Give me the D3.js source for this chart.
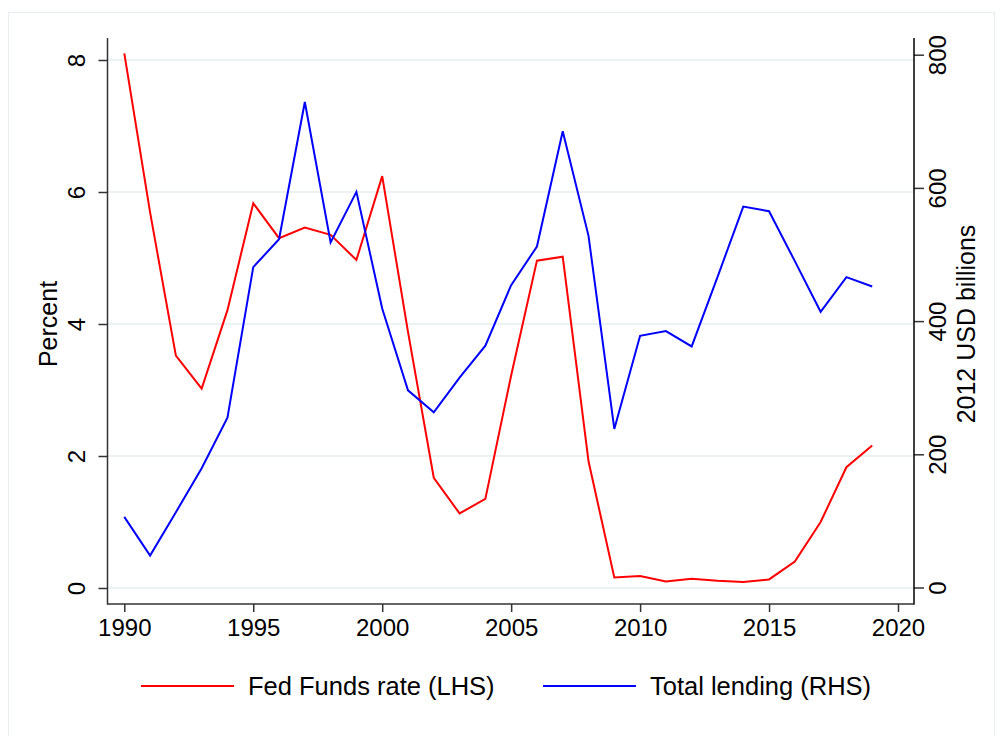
<!DOCTYPE html>
<html>
<head>
<meta charset="utf-8">
<script src="https://cdn.jsdelivr.net/npm/d3@7"></script>
<style>
  body { margin: 0; background: #fff; }
  svg { display: block; font-family: "Liberation Sans", Arial, sans-serif; }
</style>
</head>
<body>
<svg id="chart" width="1003" height="736"></svg>
<script>
const years = d3.range(1990, 2020);
const fedFunds = [8.10, 5.69, 3.52, 3.02, 4.21, 5.83, 5.30, 5.46, 5.35, 4.97,
  6.24, 3.88, 1.67, 1.13, 1.35, 3.22, 4.96, 5.02, 1.92, 0.16,
  0.18, 0.10, 0.14, 0.11, 0.09, 0.13, 0.40, 1.00, 1.83, 2.16];
const lending = [106, 48, 113, 179, 255, 481, 523, 729, 518, 594,
  419, 296, 263, 315, 363, 454, 512, 685, 528, 238,
  378, 385, 362, 466, 572, 565, 490, 414, 466, 452];
const xTicks = [1990, 1995, 2000, 2005, 2010, 2015, 2020];
const leftTicks = [0, 2, 4, 6, 8];
const rightTicks = [0, 200, 400, 600, 800];
const legendLabels = ["Fed Funds rate (LHS)", "Total lending (RHS)"];

const svg = d3.select("#chart");
const plotLeft = 107.5, plotRight = 914, plotTop = 38, plotBottom = 604;
const tickFont = "24px", titleFont = "25px", legendFont = "25.5px";

const x = d3.scaleLinear().domain([1990, 2020]).range([124.3, 898]);
const yL = d3.scaleLinear().domain([0, 8]).range([588, 60]);
const yR = d3.scaleLinear().domain([0, 800]).range([587.5, 54.7]);

// faint outer frame
svg.append("rect").attr("x", 8.5).attr("y", 12.5).attr("width", 986).attr("height", 730)
  .attr("fill", "none").attr("stroke", "#e6eef0").attr("stroke-width", 1);

// gridlines
svg.append("g").selectAll("line").data(leftTicks).join("line")
  .attr("x1", plotLeft).attr("x2", plotRight)
  .attr("y1", d => yL(d)).attr("y2", d => yL(d))
  .attr("stroke", "#eaf2f3").attr("stroke-width", 2);

// lines
const lineL = d3.line().x((d, i) => x(years[i])).y(d => yL(d));
const lineR = d3.line().x((d, i) => x(years[i])).y(d => yR(d));
svg.append("path").datum(fedFunds).attr("d", lineL)
  .attr("fill", "none").attr("stroke", "#ff0000").attr("stroke-width", 2);
svg.append("path").datum(lending).attr("d", lineR)
  .attr("fill", "none").attr("stroke", "#0000ff").attr("stroke-width", 2);

// axes
const axisColor = "#333";
function styleAxis(g) {
  g.select(".domain").remove();
  g.selectAll(".tick line").attr("stroke", axisColor).attr("stroke-width", 1.5);
  g.selectAll(".tick text").attr("fill", "#000").style("font-size", tickFont);
}

svg.append("g").attr("transform", `translate(0,${plotBottom})`)
  .call(d3.axisBottom(x).tickValues(xTicks).tickFormat(d3.format("d")).tickSize(8).tickPadding(7))
  .call(styleAxis);

const gl = svg.append("g").attr("transform", `translate(${plotLeft},0)`)
  .call(d3.axisLeft(yL).tickValues(leftTicks).tickSize(9).tickPadding(0))
  .call(styleAxis);
gl.selectAll(".tick text")
  .attr("x", null)
  .attr("text-anchor", "middle")
  .attr("transform", "translate(-31,0) rotate(-90)")
  .attr("dy", "0.35em");

const gr = svg.append("g").attr("transform", `translate(${plotRight},0)`)
  .call(d3.axisRight(yR).tickValues(rightTicks).tickSize(10).tickPadding(0))
  .call(styleAxis);
gr.selectAll(".tick text")
  .attr("x", null)
  .attr("text-anchor", "middle")
  .attr("transform", "translate(24,0) rotate(-90)")
  .attr("dy", "0.35em");

svg.append("line").attr("x1", plotLeft).attr("x2", plotLeft).attr("y1", plotTop).attr("y2", plotBottom + 0.75)
  .attr("stroke", axisColor).attr("stroke-width", 1.5);
svg.append("line").attr("x1", plotRight).attr("x2", plotRight).attr("y1", plotTop).attr("y2", plotBottom + 0.75)
  .attr("stroke", "#000").attr("stroke-width", 1.5);
svg.append("line").attr("x1", plotLeft).attr("x2", plotRight).attr("y1", plotBottom).attr("y2", plotBottom)
  .attr("stroke", axisColor).attr("stroke-width", 1.5);

// axis titles
svg.append("text").attr("transform", "translate(48,324) rotate(-90)")
  .attr("text-anchor", "middle").attr("dy", "0.35em").style("font-size", titleFont).text("Percent");
svg.append("text").attr("transform", "translate(966,324) rotate(-90)")
  .attr("text-anchor", "middle").attr("dy", "0.35em").style("font-size", titleFont).text("2012 USD billions");

// legend
const legend = svg.append("g");
const legendItems = [
  { label: legendLabels[0], color: "#ff0000", x0: 141 },
  { label: legendLabels[1], color: "#0000ff", x0: 543 }
];
legendItems.forEach(it => {
  legend.append("line").attr("x1", it.x0).attr("x2", it.x0 + 93)
    .attr("y1", 686).attr("y2", 686).attr("stroke", it.color).attr("stroke-width", 2);
  legend.append("text").attr("x", it.x0 + 107).attr("y", 686).attr("dy", "0.35em")
    .style("font-size", legendFont).text(it.label);
});
</script>
</body>
</html>
